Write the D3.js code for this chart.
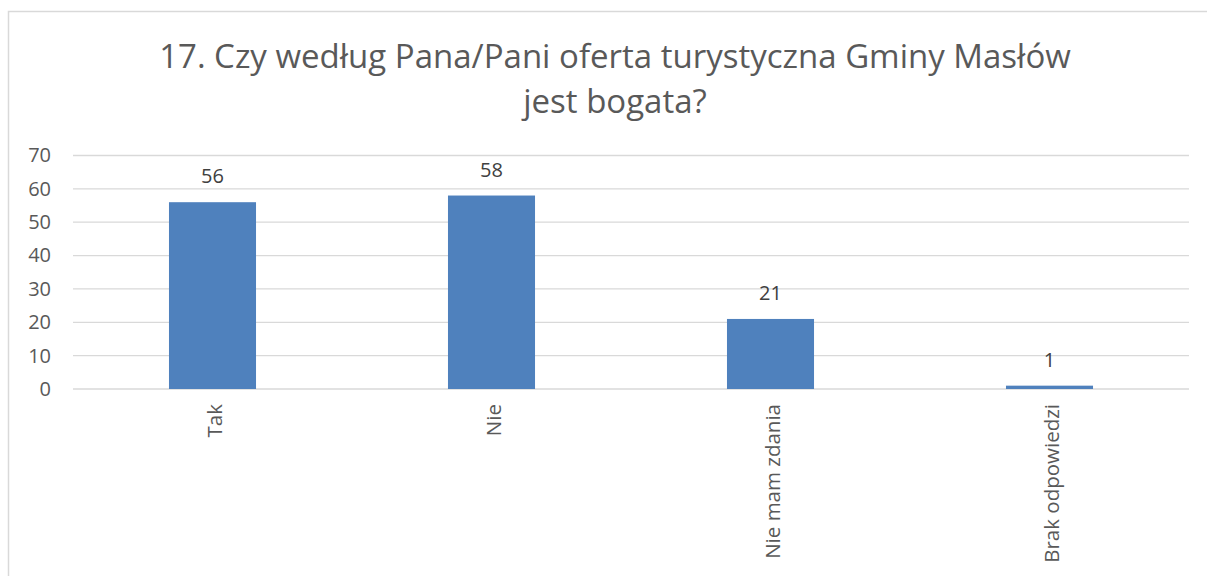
<!DOCTYPE html>
<html>
<head>
<meta charset="utf-8">
<script src="https://cdn.jsdelivr.net/npm/d3@7"></script>
<style>
  body { margin: 0; background: #fff; }
  text { font-family: "Open Sans", "Noto Sans", sans-serif; }
</style>
</head>
<body>
<svg id="chart" width="1207" height="576"></svg>
<script>
const categories = ["Tak", "Nie", "Nie mam zdania", "Brak odpowiedzi"];
const values = [56, 58, 21, 1];
const yTicks = [0, 10, 20, 30, 40, 50, 60, 70];
const titleLines = ["17. Czy według Pana/Pani oferta turystyczna Gminy Masłów", "jest bogata?"];

const svg = d3.select("#chart");
const plotLeft = 73, plotRight = 1189, plotTop = 155.5, plotBottom = 389;

// chart frame (cropped on the right and bottom)
svg.append("rect")
  .attr("x", 8.5).attr("y", 11.5)
  .attr("width", 1210).attr("height", 580)
  .attr("fill", "none").attr("stroke", "#d9d9d9").attr("stroke-width", 1.5);

const x = d3.scaleBand()
  .domain(categories)
  .range([plotLeft, plotRight])
  .paddingInner(0.688)
  .paddingOuter(0.344);

const y = d3.scaleLinear().domain([0, 70]).range([plotBottom, plotTop]);

// gridlines
svg.append("g").selectAll("line")
  .data(yTicks)
  .join("line")
  .attr("x1", plotLeft).attr("x2", plotRight)
  .attr("y1", d => y(d)).attr("y2", d => y(d))
  .attr("stroke", "#d9d9d9").attr("stroke-width", 1.3);

// y axis labels
const yAxis = d3.axisLeft(y).tickValues(yTicks).tickSize(0).tickPadding(0);
svg.append("g")
  .attr("transform", `translate(${51},0)`)
  .call(yAxis)
  .call(g => g.select(".domain").remove())
  .call(g => g.selectAll("text")
    .attr("fill", "#595959")
    .style("font-size", "20px")
    .style("font-family", "'Open Sans', sans-serif"));

// bars
svg.append("g").selectAll("rect")
  .data(values)
  .join("rect")
  .attr("x", (d, i) => x(categories[i]))
  .attr("y", d => y(d))
  .attr("width", x.bandwidth())
  .attr("height", d => plotBottom - y(d))
  .attr("fill", "#4f81bd");

// value labels
svg.append("g").selectAll("text")
  .data(values)
  .join("text")
  .attr("x", (d, i) => x(categories[i]) + x.bandwidth() / 2)
  .attr("y", d => y(d) - 19)
  .attr("text-anchor", "middle")
  .attr("fill", "#404040")
  .style("font-size", "20px")
  .text(d => d);

// category labels, rotated
svg.append("g").selectAll("text")
  .data(categories)
  .join("text")
  .attr("transform", d => `translate(${x(d) + x.bandwidth() / 2 + 9},${404}) rotate(-90)`)
  .attr("text-anchor", "end")
  .attr("fill", "#595959")
  .style("font-size", "20.5px")
  .text(d => d);

// title
svg.append("g").selectAll("text")
  .data(titleLines)
  .join("text")
  .attr("x", 615)
  .attr("y", (d, i) => 68 + i * 45)
  .attr("text-anchor", "middle")
  .attr("fill", "#595959")
  .style("font-size", "33px")
  .text(d => d);
</script>
</body>
</html>
